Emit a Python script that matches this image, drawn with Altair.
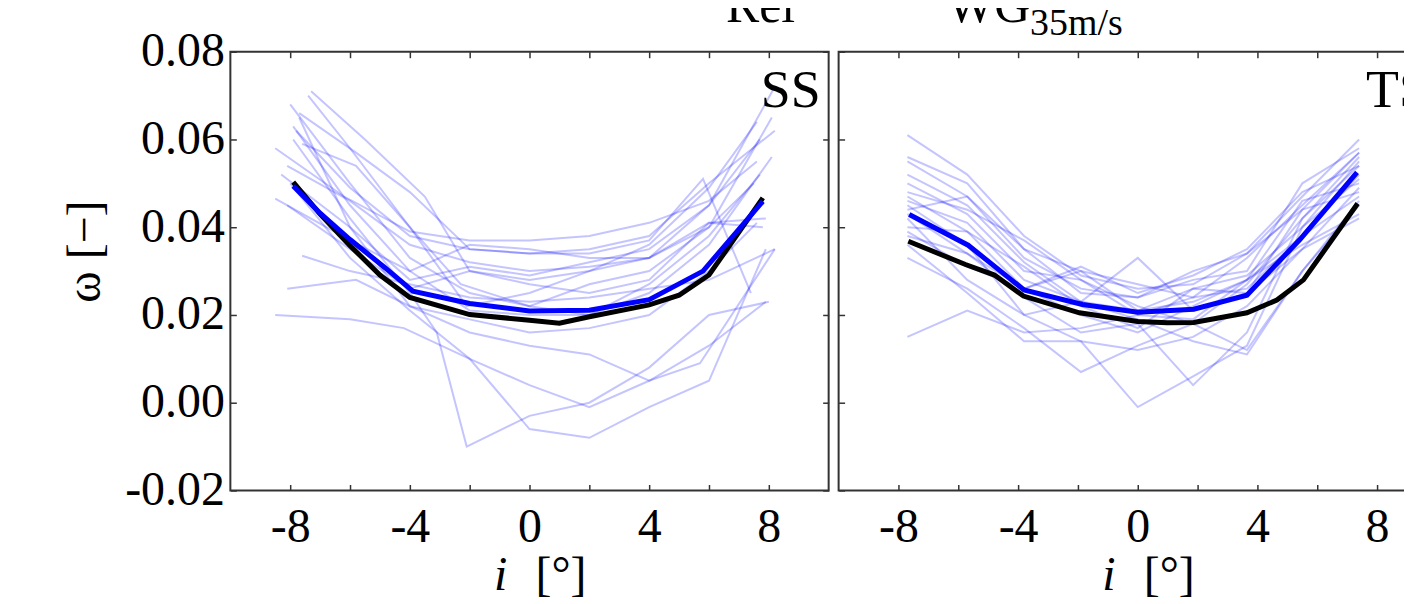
import altair as alt
import pandas as pd

FONT = "Liberation Serif"
FS = 48
W, H = 600, 440

x_ticks = [-8, -6, -4, -2, 0, 2, 4, 6, 8]
y_ticks = [-0.02, 0.0, 0.02, 0.04, 0.06, 0.08]

# ---- SS panel: reference (black) and WG 35 m/s mean (blue)
ss_ref_x = [-7.9, -7.0, -6.0, -5.0, -4.0, -2.0, 0.0, 1.0, 2.0, 4.0, 5.0, 6.0, 7.8]
ss_ref_y = [0.0503, 0.0430, 0.0358, 0.0291, 0.0240, 0.0201, 0.0188, 0.0181, 0.0196, 0.0223, 0.0245, 0.0291, 0.0467]
ss_wg_x = [-7.9, -7.0, -6.0, -4.8, -3.9, -2.0, 0.0, 2.0, 4.0, 5.8, 7.8]
ss_wg_y = [0.0494, 0.0432, 0.0372, 0.0306, 0.0254, 0.0226, 0.0209, 0.0211, 0.0235, 0.0300, 0.0459]

# ---- SS panel: individual realisations (thin lines)
ss_thin_x = [
    [-7.3, -5.5, -3.5, -2.0, 0.0, 2.0, 4.0, 6.0, 8.2],
    [-7.4, -6.0, -4.0, -2.1, 0.0, 2.0, 4.0, 6.0, 7.6],
    [-8.0, -6.0, -4.0, -2.0, 0.0, 2.0, 4.0, 6.0, 8.1],
    [-7.7, -5.8, -4.0, -2.0, 0.0, 2.0, 4.0, 6.0, 8.2],
    [-7.9, -6.0, -4.0, -2.0, 0.0, 2.0, 4.0, 6.0, 8.1],
    [-7.8, -6.0, -4.0, -2.0, 0.0, 2.0, 4.0, 5.8, 7.4],
    [-8.5, -6.2, -4.0, -2.0, 0.0, 2.0, 4.0, 6.0, 7.6],
    [-7.6, -5.8, -4.0, -2.3, 0.0, 2.0, 4.0, 6.0, 7.7],
    [-8.1, -6.0, -4.0, -2.0, 0.0, 2.0, 4.0, 6.0, 7.5],
    [-8.5, -6.0, -4.0, -2.0, 0.0, 2.0, 4.0, 6.0, 7.9],
    [-8.1, -6.0, -4.0, -2.0, 0.0, 2.0, 4.0, 6.0, 7.8],
    [-7.6, -6.0, -4.0, -2.0, 0.0, 2.0, 4.0, 6.0, 8.2],
    [-8.1, -5.8, -4.0, -2.0, 0.0, 2.0, 4.0, 6.0, 7.6],
    [-8.5, -6.0, -4.2, -2.0, 0.0, 2.0, 4.0, 6.0, 7.9],
    [-7.9, -6.0, -4.0, -3.1, -2.1, 0.0, 2.0, 4.0, 6.0, 8.0],
    [-8.0, -6.0, -4.0, -2.0, 0.0, 2.0, 4.0, 6.0, 7.9],
    [-7.7, -6.0, -4.0, -2.0, 0.0, 2.0, 4.0, 5.7, 8.2],
    [-8.3, -6.0, -4.0, -2.0, 0.0, 2.0, 4.0, 6.0, 7.7],
]
ss_thin_y = [
    [0.071, 0.060, 0.047, 0.030, 0.028, 0.030, 0.033, 0.045, 0.072],
    [0.070, 0.058, 0.040, 0.022, 0.025, 0.030, 0.036, 0.049, 0.064],
    [0.068, 0.050, 0.033, 0.025, 0.022, 0.027, 0.030, 0.040, 0.065],
    [0.066, 0.057, 0.048, 0.035, 0.034, 0.035, 0.038, 0.050, 0.062],
    [0.063, 0.045, 0.030, 0.021, 0.020, 0.020, 0.025, 0.036, 0.056],
    [0.062, 0.049, 0.038, 0.035, 0.034, 0.034, 0.037, 0.051, 0.025],
    [0.058, 0.047, 0.039, 0.037, 0.037, 0.038, 0.041, 0.046, 0.055],
    [0.059, 0.054, 0.040, 0.027, 0.022, 0.020, 0.027, 0.038, 0.052],
    [0.054, 0.046, 0.036, 0.032, 0.030, 0.031, 0.033, 0.040, 0.050],
    [0.0465, 0.037, 0.030, 0.036, 0.035, 0.033, 0.033, 0.041, 0.042],
    [0.045, 0.035, 0.026, 0.030, 0.027, 0.025, 0.028, 0.041, 0.040],
    [0.0335, 0.030, 0.027, 0.024, 0.023, 0.024, 0.026, 0.028, 0.035],
    [0.026, 0.028, 0.022, 0.019, 0.016, 0.017, 0.020, 0.030, 0.041],
    [0.020, 0.019, 0.017, 0.010, 0.004, -0.001, 0.005, 0.013, 0.023],
    [0.060, 0.042, 0.025, 0.016, -0.010, -0.003, 0.000, 0.008, 0.020, 0.023],
    [0.050, 0.033, 0.021, 0.010, -0.006, -0.008, -0.001, 0.005, 0.035],
    [0.065, 0.040, 0.022, 0.016, 0.013, 0.011, 0.005, 0.009, 0.035],
    [0.052, 0.040, 0.028, 0.031, 0.029, 0.032, 0.035, 0.045, 0.060],
]

# ---- TS panel
ts_ref_x = [-7.67, -5.76, -4.79, -3.82, -1.95, 0.0, 0.99, 1.87, 3.65, 4.65, 5.54, 7.35]
ts_ref_y = [0.0368, 0.0315, 0.0291, 0.0243, 0.0205, 0.0185, 0.0182, 0.0183, 0.0205, 0.0234, 0.0280, 0.0454]
ts_wg_x = [-7.64, -5.67, -3.8, -1.85, 0.0, 1.87, 3.65, 5.42, 7.33]
ts_wg_y = [0.0429, 0.0359, 0.0257, 0.0224, 0.0206, 0.0213, 0.0245, 0.0372, 0.0525]

ts_grid = [-7.7, -5.7, -3.8, -1.9, 0.0, 1.85, 3.65, 5.5, 7.4]
ts_thin_x = [ts_grid for _ in range(18)]
ts_thin_y = [
    [0.061, 0.052, 0.038, 0.029, 0.026, 0.027, 0.034, 0.047, 0.060],
    [0.056, 0.050, 0.035, 0.025, 0.024, 0.028, 0.030, 0.050, 0.058],
    [0.055, 0.047, 0.035, 0.030, 0.027, 0.024, 0.033, 0.045, 0.057],
    [0.052, 0.045, 0.032, 0.023, 0.021, 0.026, 0.029, 0.040, 0.055],
    [0.050, 0.043, 0.030, 0.028, 0.022, 0.018, 0.027, 0.042, 0.054],
    [0.048, 0.044, 0.037, 0.028, 0.020, 0.024, 0.026, 0.038, 0.052],
    [0.047, 0.039, 0.026, 0.030, 0.021, 0.023, 0.028, 0.046, 0.050],
    [0.044, 0.047, 0.033, 0.026, 0.024, 0.030, 0.034, 0.044, 0.048],
    [0.046, 0.041, 0.028, 0.023, 0.033, 0.021, 0.025, 0.044, 0.057],
    [0.040, 0.039, 0.031, 0.022, 0.017, 0.026, 0.025, 0.035, 0.042],
    [0.042, 0.028, 0.020, 0.014, 0.012, 0.015, 0.022, 0.035, 0.049],
    [0.039, 0.031, 0.026, 0.020, 0.016, 0.022, 0.028, 0.038, 0.047],
    [0.033, 0.026, 0.017, 0.007, 0.013, 0.018, 0.012, 0.030, 0.045],
    [0.015, 0.021, 0.016, 0.017, 0.020, 0.019, 0.028, 0.036, 0.043],
    [0.036, 0.025, 0.014, 0.014, -0.001, 0.006, 0.013, 0.040, 0.051],
    [0.043, 0.034, 0.024, 0.016, 0.018, 0.004, 0.016, 0.042, 0.056],
    [0.038, 0.034, 0.026, 0.031, 0.025, 0.029, 0.035, 0.048, 0.054],
    [0.045, 0.036, 0.020, 0.023, 0.019, 0.014, 0.011, 0.030, 0.046],
]


def thin_df(xs, ys):
    rows = []
    for r, (xl, yl) in enumerate(zip(xs, ys)):
        for i, (a, b) in enumerate(zip(xl, yl)):
            rows.append({"run": r, "idx": i, "x": a, "y": b})
    return pd.DataFrame(rows)


xscale = alt.Scale(domain=[-10, 10], nice=False, zero=False)
yscale = alt.Scale(domain=[-0.02, 0.08], nice=False, zero=False)

AX = dict(grid=False, domain=False, ticks=True, tickSize=6, offset=-6,
          tickColor="#333333", tickWidth=1.5,
          labelFont=FONT, labelFontSize=FS, labelColor="black",
          titleFont=FONT, titleFontSize=FS, titleColor="black",
          titleFontWeight="normal")

x_label_expr = ("datum.value % 4 == 0 ? (datum.value < 0 ? '-' + abs(datum.value) "
                ": '' + datum.value) : ''")
y_label_expr = ("(datum.value < -0.000001 ? '-' : '') + format(abs(datum.value), '.2f')")


def panel(thin, ref, wg, label, show_y):
    x_bottom = alt.Axis(orient="bottom", values=x_ticks, labelExpr=x_label_expr,
                        labelPadding=13, labelFlush=False, labelOverlap=False,
                        title=None, **AX)
    if show_y:
        y_left = alt.Axis(orient="left", values=y_ticks, labelExpr=y_label_expr,
                          labelPadding=6, labelFlush=False, labelOverlap=False,
                          title="ω [−]", titlePadding=15, titleY=200, **AX)
    else:
        y_left = alt.Axis(orient="left", values=y_ticks, labels=False, title=None, **AX)
    x_top = alt.Axis(orient="top", values=x_ticks, labels=False, title=None, **AX)
    y_right = alt.Axis(orient="right", values=y_ticks, labels=False, title=None, **AX)

    thin_layer = alt.Chart(thin).mark_line(color="#0000ff", opacity=0.23, strokeWidth=2).encode(
        x=alt.X("x:Q", scale=xscale, axis=x_bottom),
        y=alt.Y("y:Q", scale=yscale, axis=y_left),
        detail="run:N",
        order="idx:Q",
    )
    ref_layer = alt.Chart(ref).mark_line(color="black", strokeWidth=5).encode(
        x=alt.X("x:Q", scale=xscale, axis=x_top),
        y=alt.Y("y:Q", scale=yscale, axis=y_right),
    )
    wg_layer = alt.Chart(wg).mark_line(color="#0000ff", strokeWidth=5).encode(
        x=alt.X("x:Q", scale=xscale, axis=None),
        y=alt.Y("y:Q", scale=yscale, axis=None),
    )
    tag = alt.Chart(pd.DataFrame({"t": [label]})).mark_text(
        font=FONT, fontSize=54, align="right", baseline="alphabetic", color="black"
    ).encode(x=alt.value(592), y=alt.value(55), text="t:N")
    t_i = alt.Chart(pd.DataFrame({"t": ["i"]})).mark_text(
        font=FONT, fontSize=FS, fontStyle="italic", align="center", baseline="alphabetic", color="black"
    ).encode(x=alt.value(W / 2 - 29), y=alt.value(540), text="t:N")
    t_u = alt.Chart(pd.DataFrame({"t": ["[°]"]})).mark_text(
        font=FONT, fontSize=FS, align="left", baseline="alphabetic", color="black"
    ).encode(x=alt.value(W / 2 + 6), y=alt.value(540), text="t:N")
    return [thin_layer, ref_layer, wg_layer, tag, t_i, t_u]


left_layers = panel(thin_df(ss_thin_x, ss_thin_y),
                    pd.DataFrame({"x": ss_ref_x, "y": ss_ref_y}),
                    pd.DataFrame({"x": ss_wg_x, "y": ss_wg_y}), "SS", True)

# legend (drawn above the left panel, its top is cut by the frame edge)
LFS = 50
leg_rel_line = alt.Chart(pd.DataFrame({"n": ["Rel"]})).mark_rule(color="black", strokeWidth=5).encode(
    x=alt.value(426), x2=alt.value(486), y=alt.value(-48))
leg_wg_line = alt.Chart(pd.DataFrame({"n": ["WG"]})).mark_rule(color="#0000ff", strokeWidth=5).encode(
    x=alt.value(641), x2=alt.value(701), y=alt.value(-48))
leg_rel_txt = alt.Chart(pd.DataFrame({"t": ["Rel"]})).mark_text(
    font=FONT, fontSize=LFS, align="left", baseline="alphabetic", color="black"
).encode(x=alt.value(497), y=alt.value(-30), text="t:N")
leg_wg_txt = alt.Chart(pd.DataFrame({"t": ["WG"]})).mark_text(
    font=FONT, fontSize=LFS, align="left", baseline="alphabetic", color="black"
).encode(x=alt.value(719), y=alt.value(-30), text="t:N")
leg_wg_sub = alt.Chart(pd.DataFrame({"t": ["35m/s"]})).mark_text(
    font=FONT, fontSize=38, align="left", baseline="alphabetic", color="black"
).encode(x=alt.value(802), y=alt.value(-17), text="t:N")

left = alt.layer(*left_layers, leg_rel_line, leg_wg_line, leg_rel_txt, leg_wg_txt, leg_wg_sub).resolve_axis(
    x="independent", y="independent").properties(width=W, height=H)

right_layers = panel(thin_df(ts_thin_x, ts_thin_y),
                     pd.DataFrame({"x": ts_ref_x, "y": ts_ref_y}),
                     pd.DataFrame({"x": ts_wg_x, "y": ts_wg_y}), "TS", False)
right = alt.layer(*right_layers).resolve_axis(
    x="independent", y="independent").properties(width=W, height=H)

chart = alt.hconcat(left, right, spacing=10, bounds="flush").properties(
    padding={"left": 53, "top": -28, "right": -35, "bottom": -3},
    background="white",
).configure_view(stroke="#333333", strokeWidth=2)

chart.save("out.html", embed_options={"renderer": "svg", "actions": False})
